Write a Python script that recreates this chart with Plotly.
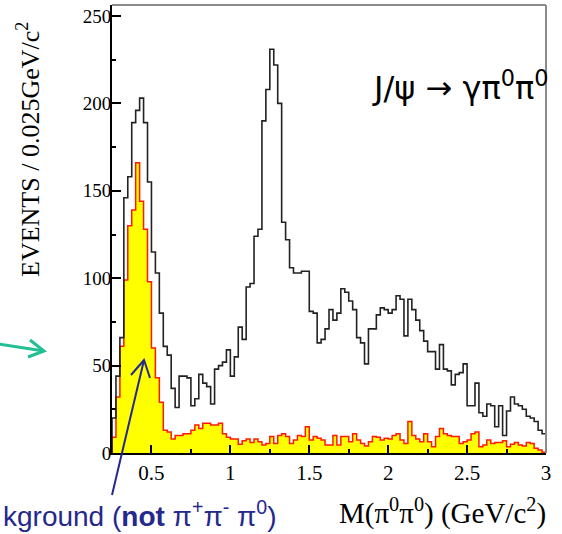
import numpy as np
import plotly.graph_objects as go

# ---- data (bin width 0.025 GeV/c^2, from 0.25 to 3.0) ----
x_start = 0.25
bin_width = 0.025
data_counts = [
    20, 44, 66, 146, 158, 189, 196, 203, 189, 155,
    115, 103, 80, 61, 56, 37, 26, 44, 44, 43,
    27, 31, 45, 40, 38, 28, 48, 50, 52, 59,
    44, 55, 72, 65, 95, 97, 124, 128, 190, 208,
    231, 222, 200, 132, 122, 106, 103, 103, 104, 104,
    81, 80, 63, 65, 71, 82, 76, 80, 94, 92,
    87, 82, 66, 63, 51, 71, 71, 79, 83, 82,
    80, 82, 90, 88, 67, 88, 82, 76, 70, 64,
    58, 58, 48, 62, 48, 47, 39, 45, 46, 51,
    27, 27, 40, 23, 21, 28, 27, 15, 27, 10,
    24, 32, 28, 27, 25, 21, 20, 18, 13, 11,
]
background_counts = [
    9, 32, 61, 99, 130, 139, 166, 144, 128, 98,
    60, 43, 29, 13, 12, 8, 10, 10, 11, 11,
    13, 16, 14, 17, 17, 16, 16, 17, 11, 9,
    8, 8, 5, 7, 8, 6, 8, 6.5, 4.6, 5.5,
    9.4, 5.5, 10, 11, 9.4, 5.5, 7.5, 10, 9.4, 15,
    7.5, 9.4, 8.4, 7.5, 4.6, 4.6, 10, 4.6, 9.4, 9.4,
    6.5, 11, 7.5, 5.5, 4, 6.5, 9.4, 9, 7.5, 8.4,
    8, 10, 11, 7.5, 5.5, 18, 10, 8, 6.5, 11,
    6.5, 3.6, 9.4, 14, 11, 10, 9.4, 9.4, 5.5, 6.5,
    7.5, 11, 12, 3.6, 4.6, 7.5, 5.5, 6, 6, 7,
    3.6, 5, 6, 4.6, 4, 6, 5.5, 2.7, 1.7, 0.5,
]
x_tick_vals = [0.5, 1, 1.5, 2, 2.5, 3]
x_tick_text = ["0.5", "1", "1.5", "2", "2.5", "3"]
y_tick_vals = [0, 50, 100, 150, 200, 250]
y_tick_text = ["0", "50", "100", "150", "200", "250"]

n_bins = len(data_counts)
edges = x_start + bin_width * np.arange(n_bins + 1)


def step_xy(counts):
    xs = [edges[0]] + list(edges[:-1]) + [edges[-1], edges[-1]]
    ys = [0] + list(counts) + [counts[-1], 0]
    return xs, ys


# ---- layout geometry (pixels) ----
W, H = 562, 534
L, R, T, B = 112, 16, 5, 81
PW, PH = W - L - R, H - T - B


def px(xp):
    return (xp - L) / PW


def py(yp):
    return (H - B - yp) / PH


fig = go.Figure()
bx, by = step_xy(background_counts)
fig.add_trace(go.Scatter(x=bx, y=by, mode="lines", line_shape="hv",
                         line=dict(color="#FF1A00", width=1.5),
                         fill="tozeroy", fillcolor="#FFFF00",
                         hoverinfo="skip", showlegend=False))
dx, dy = step_xy(data_counts)
fig.add_trace(go.Scatter(x=dx, y=dy, mode="lines", line_shape="hv",
                         line=dict(color="#222222", width=1.6),
                         hoverinfo="skip", showlegend=False))

serif = "Liberation Serif"
fig.update_layout(
    width=W, height=H,
    margin=dict(l=L, r=R, t=T, b=B, pad=0),
    paper_bgcolor="white", plot_bgcolor="white",
    showlegend=False,
    xaxis=dict(range=[0.25, 3.0], showgrid=False, zeroline=False,
               showline=True, linecolor="black", linewidth=2,
               ticks="inside", ticklen=8, tickwidth=1.5, tickcolor="black",
               tickvals=x_tick_vals, ticktext=x_tick_text,
               tickfont=dict(family=serif, size=21, color="black"),
               minor=dict(tickvals=[0.75, 1.25, 1.75, 2.25, 2.75],
                          ticks="inside", ticklen=4, tickwidth=1.5,
                          tickcolor="black")),
    yaxis=dict(range=[0, 256.3], showgrid=False, zeroline=False,
               showline=True, linecolor="black", linewidth=2,
               ticks="inside", ticklen=9, tickwidth=1.5, tickcolor="black",
               tickvals=y_tick_vals, ticktext=y_tick_text,
               ticklabelstandoff=-5,
               tickfont=dict(family=serif, size=19, color="black"),
               minor=dict(tickvals=[25, 75, 125, 175, 225],
                          ticks="inside", ticklen=4, tickwidth=1.5,
                          tickcolor="black")),
)

# frame (top & right, grey)
fig.add_shape(type="line", xref="paper", yref="paper", x0=0, x1=1, y0=1, y1=1,
              line=dict(color="#8a8a8a", width=2))
fig.add_shape(type="line", xref="paper", yref="paper", x0=1, x1=1, y0=0, y1=1,
              line=dict(color="#8a8a8a", width=2))

# axis titles
fig.add_annotation(text="EVENTS / 0.025GeV/c<sup>2</sup>", textangle=-90,
                   xref="paper", yref="paper", x=px(28), y=py(150),
                   xanchor="center", yanchor="middle", showarrow=False,
                   font=dict(family=serif, size=26, color="black"))
fig.add_annotation(text="M(π<sup>0</sup>π<sup>0</sup>) (GeV/c<sup>2</sup>)",
                   xref="paper", yref="paper", x=px(548), y=py(511),
                   xanchor="right", yanchor="middle", showarrow=False,
                   font=dict(family=serif, size=29, color="black"))

# reaction label
fig.add_annotation(text="J/ψ → γπ<sup>0</sup>π<sup>0</sup>",
                   xref="paper", yref="paper", x=px(370), y=py(86),
                   xanchor="left", yanchor="middle", showarrow=False,
                   font=dict(family="DejaVu Sans", size=32, color="black"))

# background label (blue, visible part as in the picture) and arrow
blue = "#25288C"
fig.add_annotation(text="kground (<b>not</b> π<sup>+</sup>π<sup>-</sup> π<sup>0</sup>)",
                   xref="paper", yref="paper", x=px(1), y=py(514),
                   xanchor="left", yanchor="middle", showarrow=False,
                   font=dict(family="Liberation Sans", size=28, color=blue))
tip = (144, 360)
fig.add_shape(type="path", xref="paper", yref="paper",
              path=f"M {px(112)} {py(495)} L {px(tip[0])} {py(tip[1])}",
              line=dict(color=blue, width=2))
fig.add_shape(type="path", xref="paper", yref="paper",
              path=(f"M {px(131)} {py(375)} L {px(tip[0])} {py(tip[1])} "
                    f"L {px(150)} {py(378)}"),
              line=dict(color=blue, width=2))

# teal arrow at left
teal = "#22BE95"
fig.add_shape(type="path", xref="paper", yref="paper",
              path=f"M {px(-2)} {py(344)} L {px(44)} {py(351)}",
              line=dict(color=teal, width=3))
fig.add_shape(type="path", xref="paper", yref="paper",
              path=(f"M {px(30)} {py(340)} L {px(44)} {py(351)} "
                    f"L {px(28)} {py(357)}"),
              line=dict(color=teal, width=3))

fig.write_html("out.html")
